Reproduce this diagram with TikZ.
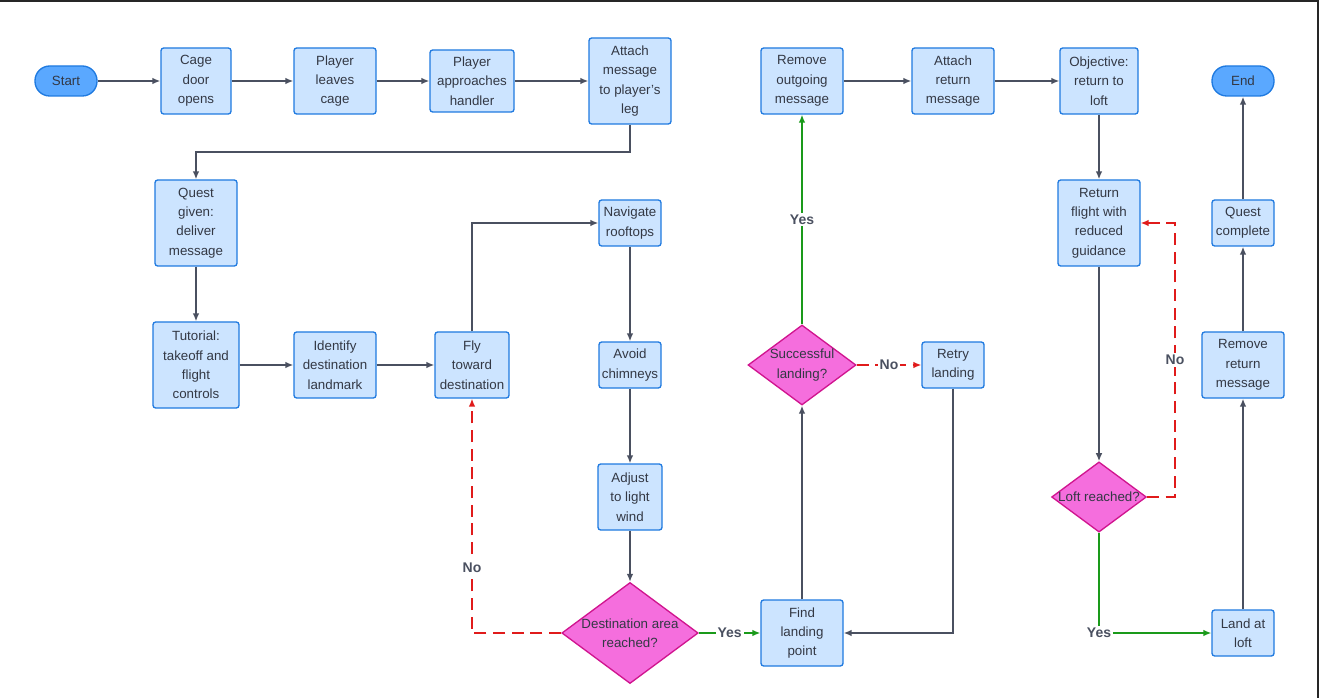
\documentclass[tikz,border=0pt]{standalone}
\usepackage{fontspec}
\setmainfont{Liberation Sans}
\usetikzlibrary{shapes.geometric,arrows.meta}
\definecolor{bfill}{HTML}{CCE4FF}
\definecolor{bdraw}{HTML}{1F7AE0}
\definecolor{sfill}{HTML}{5AA8FF}
\definecolor{dfill}{HTML}{F56EDD}
\definecolor{ddraw}{HTML}{D0158F}
\definecolor{ln}{HTML}{4A5060}
\definecolor{gr}{HTML}{1A9A1A}
\definecolor{rd}{HTML}{E01B1B}
\definecolor{tx}{HTML}{333844}
\begin{document}
\begin{tikzpicture}[x=0.75pt,y=-0.75pt,
  every node/.style={font=\fontsize{10}{14.5}\selectfont,text=tx,align=center,inner sep=0pt},
  bx/.style={draw=bdraw,fill=bfill,line width=1pt,rounded corners=2pt},
  term/.style={draw=bdraw,fill=sfill,line width=1pt,rounded corners=11pt},
  dm/.style={diamond,draw=ddraw,fill=dfill,line width=1pt,aspect=1.35},
  ar/.style={draw=ln,line width=1.1pt,-{Latex[length=6pt,width=5pt]}},
  ga/.style={draw=gr,line width=1.1pt,-{Latex[length=6pt,width=5pt]}},
  ra/.style={draw=rd,line width=1.1pt,dash pattern=on 9pt off 5pt,-{Latex[length=6pt,width=5pt]}},
  lb/.style={fill=white,inner sep=1.5pt,font=\fontsize{10.5}{12}\selectfont\bfseries,text=ln}]
\useasboundingbox (0,0) rectangle (1323,698);
\draw[line width=1.5pt,draw=black!85] (0,1) -- (1318,1) -- (1318,698);
\newcommand{\bxn}[6]{\node[bx,minimum width=#4*0.75pt,minimum height=#5*0.75pt] (#1) at (#2,#3) {#6};}
\node[term,minimum width=46.5pt,minimum height=22.5pt] (start) at (66,81) {Start};
\bxn{cage}{196}{81}{70}{66}{Cage\\door\\opens}
\bxn{leaves}{335}{81}{82}{66}{Player\\leaves\\cage}
\bxn{appr}{472}{81}{84}{62}{Player\\approaches\\handler}
\bxn{attach}{630}{81}{82}{86}{Attach\\message\\to player's\\leg}
\bxn{quest}{196}{223}{82}{86}{Quest\\given:\\deliver\\message}
\bxn{tut}{196}{365}{86}{86}{Tutorial:\\takeoff and\\flight\\controls}
\bxn{ident}{335}{365}{82}{66}{Identify\\destination\\landmark}
\bxn{fly}{472}{365}{74}{66}{Fly\\toward\\destination}
\bxn{nav}{630}{223}{62}{46}{Navigate\\rooftops}
\bxn{avoid}{630}{365}{62}{46}{Avoid\\chimneys}
\bxn{adj}{630}{497}{64}{66}{Adjust\\to light\\wind}
\node[dm,minimum width=91.5pt,minimum height=67.5pt] (dest) at (630,633) {Destination area\\reached?};
\bxn{find}{802}{633}{82}{66}{Find\\landing\\point}
\node[dm,minimum width=81pt,minimum height=60pt] (succ) at (802,365) {Successful\\landing?};
\bxn{retry}{953}{365}{62}{46}{Retry\\landing}
\bxn{remout}{802}{81}{82}{66}{Remove\\outgoing\\message}
\bxn{attret}{953}{81}{82}{66}{Attach\\return\\message}
\bxn{obj}{1099}{81}{78}{66}{Objective:\\return to\\loft}
\bxn{retfl}{1099}{223}{82}{86}{Return\\flight with\\reduced\\guidance}
\node[dm,minimum width=69pt,minimum height=42pt] (loft) at (1099,497) {Loft reached?};
\bxn{land}{1243}{633}{62}{46}{Land at\\loft}
\bxn{remret}{1243}{365}{82}{66}{Remove\\return\\message}
\bxn{qc}{1243}{223}{62}{46}{Quest\\complete}
\node[term,minimum width=46.5pt,minimum height=22.5pt] (end) at (1243,81) {End};
% edges
\draw[ar] (start) -- (cage);
\draw[ar] (cage) -- (leaves);
\draw[ar] (leaves) -- (appr);
\draw[ar] (appr) -- (attach);
\draw[ar] (attach.south) -- (630,152) -- (196,152) -- (quest.north);
\draw[ar] (quest) -- (tut);
\draw[ar] (tut) -- (ident);
\draw[ar] (ident) -- (fly);
\draw[ar] (fly.north) |- (nav.west);
\draw[ar] (nav) -- (avoid);
\draw[ar] (avoid) -- (adj);
\draw[ar] (adj) -- (dest);
\draw[ga] (dest) -- node[lb]{Yes} (find);
\draw[ra] (dest.west) -| node[lb,pos=0.64]{No} (fly.south);
\draw[ar] (find) -- (succ);
\draw[ga] (succ) -- node[lb,pos=0.5]{Yes} (remout);
\draw[ra] (succ) -- node[lb]{No} (retry);
\draw[ar] (retry.south) |- (find.east);
\draw[ar] (remout) -- (attret);
\draw[ar] (attret) -- (obj);
\draw[ar] (obj) -- (retfl);
\draw[ar] (retfl) -- (loft);
\draw[ra] (loft.east) -- (1175,497) -- node[lb]{No} (1175,223) -- (retfl.east);
\draw[ga] (loft.south) |- node[lb,pos=0.5]{Yes} (land.west);
\draw[ar] (land) -- (remret);
\draw[ar] (remret) -- (qc);
\draw[ar] (qc) -- (end);
\end{tikzpicture}
\end{document}
